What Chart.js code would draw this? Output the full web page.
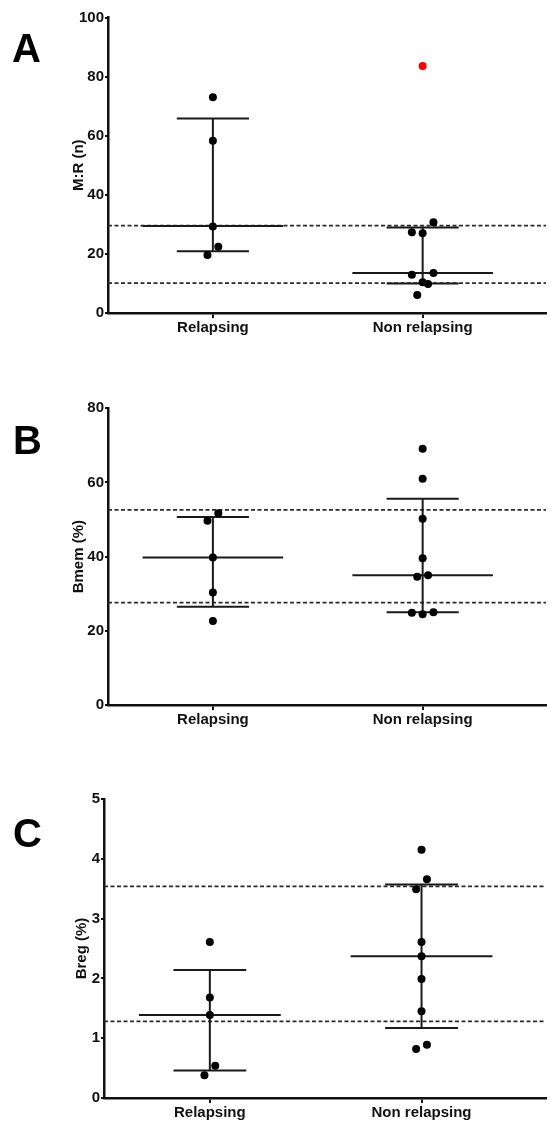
<!DOCTYPE html>
<html><head><meta charset="utf-8">
<script src="https://cdn.jsdelivr.net/npm/chart.js@4.4.0/dist/chart.umd.min.js"></script>
<style>
html,body{margin:0;padding:0;background:#fff;}
body{width:550px;height:1122px;position:relative;overflow:hidden;}
.panel{position:absolute;left:0;width:550px;}
canvas{display:block;}
</style></head><body>
<div class="panel" style="top:0px;height:343px"><canvas id="cA" width="550" height="343"></canvas></div>
<div class="panel" style="top:350px;height:385px"><canvas id="cB" width="550" height="385"></canvas></div>
<div class="panel" style="top:740px;height:382px"><canvas id="cC" width="550" height="382"></canvas></div>
<script>
// ---------- data ----------
const categories = ['Relapsing', 'Non relapsing'];

// Panel A: M:R (n)
const mrRelapsing = [73.0, 58.3, 29.3, 22.4, 19.6];
const mrNonRelapsing = [30.7, 27.3, 27.0, 13.5, 12.95, 10.4, 9.8, 6.1];
const mrNonRelapsingOutlier = [83.6];
const mrMedian = [29.4, 13.5];
const mrLower = [20.9, 10.0];
const mrUpper = [65.8, 28.9];
const mrRefLines = [29.6, 10.1];
const mrTicks = [0, 20, 40, 60, 80, 100];

// Panel B: Bmem (%)
const bmemRelapsing = [51.7, 49.7, 39.8, 30.3, 22.65];
const bmemNonRelapsing = [69.1, 61.0, 50.2, 39.55, 35.0, 34.6, 25.0, 24.9, 24.45];
const bmemMedian = [39.8, 35.0];
const bmemLower = [26.5, 25.0];
const bmemUpper = [50.7, 55.6];
const bmemRefLines = [52.6, 27.6];
const bmemTicks = [0, 20, 40, 60, 80];

// Panel C: Breg (%)
const bregRelapsing = [2.61, 1.68, 1.39, 0.54, 0.38];
const bregNonRelapsing = [4.15, 3.66, 3.49, 2.61, 2.37, 1.99, 1.45, 0.89, 0.82];
const bregMedian = [1.39, 2.37];
const bregLower = [0.46, 1.17];
const bregUpper = [2.14, 3.57];
const bregRefLines = [3.54, 1.28];
const bregTicks = [0, 1, 2, 3, 4, 5];

// ---------- drawing ----------
const FONT = '"Liberation Sans", Arial, Helvetica, sans-serif';
const INK = '#111';
const X_MIN = 0.5, X_MAX = 2.588;
const MEDIAN_HALF = 0.335, CAP_HALF = 0.172;
const BIN_PX = 11.2, SPREAD_PX = 10.8, BIN_MAX = 3;

function segment(x1, y1, x2, y2, extra) {
  return Object.assign({
    type: 'scatter', showLine: true, data: [{x: x1, y: y1}, {x: x2, y: y2}],
    borderColor: '#1a1a1a', borderWidth: 2, pointRadius: 0, order: 1
  }, extra || {});
}

// GraphPad-like scatter: points are binned top-down, points in one bin spread side by side
function swarm(values, center, yScale, pxPerUnit) {
  const order = values.map((v, i) => i).sort((a, b) => values[b] - values[a]);
  const bins = [];
  let cur = null;
  for (const i of order) {
    const py = yScale.getPixelForValue(values[i]);
    if (cur && py - cur.start < BIN_PX && cur.items.length < BIN_MAX) cur.items.push(i);
    else { cur = {start: py, items: [i]}; bins.push(cur); }
  }
  const out = new Array(values.length);
  const layouts = {1: [0], 2: [0.5, -0.5], 3: [1, -1, 0]};
  bins.forEach(b => {
    const pos = layouts[b.items.length];
    b.items.forEach((idx, j) => {
      out[idx] = {x: center + pos[j] * SPREAD_PX / pxPerUnit, y: values[idx]};
    });
  });
  return out;
}

const letterPlugin = {
  id: 'panelLetter',
  afterDraw(chart, args, opts) {
    const ctx = chart.ctx;
    ctx.save();
    ctx.fillStyle = '#000';
    ctx.font = 'bold 40px ' + FONT;
    ctx.textBaseline = 'alphabetic';
    ctx.textAlign = 'left';
    ctx.fillText(opts.text, opts.x, opts.y);
    ctx.restore();
  }
};

function buildPanel(p) {
  const datasets = [];
  p.groups.forEach((vals, gi) => {
    const c = gi + 1;
    datasets.push({
      type: 'scatter', data: vals.map(v => ({x: c, y: v})),
      swarmValues: vals, swarmCenter: c,
      pointRadius: 4, pointHoverRadius: 4, backgroundColor: '#000', borderWidth: 0, order: 0
    });
  });
  (p.outliers || []).forEach((vals, gi) => {
    if (!vals.length) return;
    datasets.push({
      type: 'scatter', data: vals.map(v => ({x: gi + 1, y: v})),
      pointRadius: 4, pointHoverRadius: 4, backgroundColor: '#ff0000', borderWidth: 0, order: 0
    });
  });
  p.medians.forEach((m, gi) => {
    const c = gi + 1;
    datasets.push(segment(c - MEDIAN_HALF, m, c + MEDIAN_HALF, m));
    datasets.push(segment(c, p.lower[gi], c, p.upper[gi]));
    datasets.push(segment(c - CAP_HALF, p.lower[gi], c + CAP_HALF, p.lower[gi]));
    datasets.push(segment(c - CAP_HALF, p.upper[gi], c + CAP_HALF, p.upper[gi]));
  });
  p.refLines.forEach(r => {
    datasets.push(segment(X_MIN, r, X_MAX, r, {borderColor: '#2a2a2a', borderWidth: 1.8, borderDash: [4, 2.5], order: 2}));
  });

  const chart = new Chart(document.getElementById(p.canvas), {
    type: 'scatter',
    data: {datasets: datasets},
    plugins: [letterPlugin],
    options: {
      responsive: false,
      animation: false,
      events: [],
      layout: {padding: {top: p.padTop, left: 0, right: 0, bottom: 0}},
      plugins: {
        legend: {display: false},
        tooltip: {enabled: false},
        panelLetter: p.letter
      },
      scales: {
        x: {
          type: 'linear', min: X_MIN, max: X_MAX,
          afterBuildTicks: s => { s.ticks = categories.map((c, i) => ({value: i + 1})); },
          afterFit: s => { s.height = p.xHeight; },
          ticks: {
            callback: v => categories[Math.round(v) - 1] || '',
            font: {family: FONT, size: 15, weight: 'bold'}, color: INK,
            padding: 1, maxRotation: 0, autoSkip: false
          },
          grid: {drawOnChartArea: false, drawTicks: true, tickLength: 5, color: INK, lineWidth: 2},
          border: {display: true, color: INK, width: 2.5}
        },
        y: {
          type: 'linear', min: p.ticks[0], max: p.ticks[p.ticks.length - 1],
          afterBuildTicks: s => { s.ticks = p.ticks.map(v => ({value: v})); },
          afterFit: s => { s.width = p.axisLeft; },
          ticks: {
            font: {family: FONT, size: 15, weight: 'bold'}, color: INK, padding: 1
          },
          title: {
            display: true, text: p.yTitle, color: INK,
            font: {family: FONT, size: 15, weight: 'bold'},
            padding: {top: p.titleCenter - 9, bottom: 0}
          },
          grid: {drawOnChartArea: false, drawTicks: true, tickLength: 3, color: INK, lineWidth: 2},
          border: {display: true, color: INK, width: 2.5}
        }
      }
    }
  });

  const xs = chart.scales.x, ys = chart.scales.y;
  const pxPerUnit = xs.getPixelForValue(2) - xs.getPixelForValue(1);
  chart.data.datasets.forEach(ds => {
    if (ds.swarmValues) ds.data = swarm(ds.swarmValues, ds.swarmCenter, ys, pxPerUnit);
  });
  chart.update('none');
  return chart;
}

buildPanel({
  canvas: 'cA', letter: {text: 'A', x: 12, y: 62}, yTitle: 'M:R (n)',
  groups: [mrRelapsing, mrNonRelapsing], outliers: [[], mrNonRelapsingOutlier],
  medians: mrMedian, lower: mrLower, upper: mrUpper, refLines: mrRefLines, ticks: mrTicks,
  padTop: 17.5, axisLeft: 108, xHeight: 30, titleCenter: 79
});
buildPanel({
  canvas: 'cB', letter: {text: 'B', x: 13, y: 104}, yTitle: 'Bmem (%)',
  groups: [bmemRelapsing, bmemNonRelapsing],
  medians: bmemMedian, lower: bmemLower, upper: bmemUpper, refLines: bmemRefLines, ticks: bmemTicks,
  padTop: 58.3, axisLeft: 108, xHeight: 30, titleCenter: 79
});
buildPanel({
  canvas: 'cC', letter: {text: 'C', x: 13, y: 107}, yTitle: 'Breg (%)',
  groups: [bregRelapsing, bregNonRelapsing],
  medians: bregMedian, lower: bregLower, upper: bregUpper, refLines: bregRefLines, ticks: bregTicks,
  padTop: 59, axisLeft: 104, xHeight: 24, titleCenter: 82
});
</script>
</body></html>
